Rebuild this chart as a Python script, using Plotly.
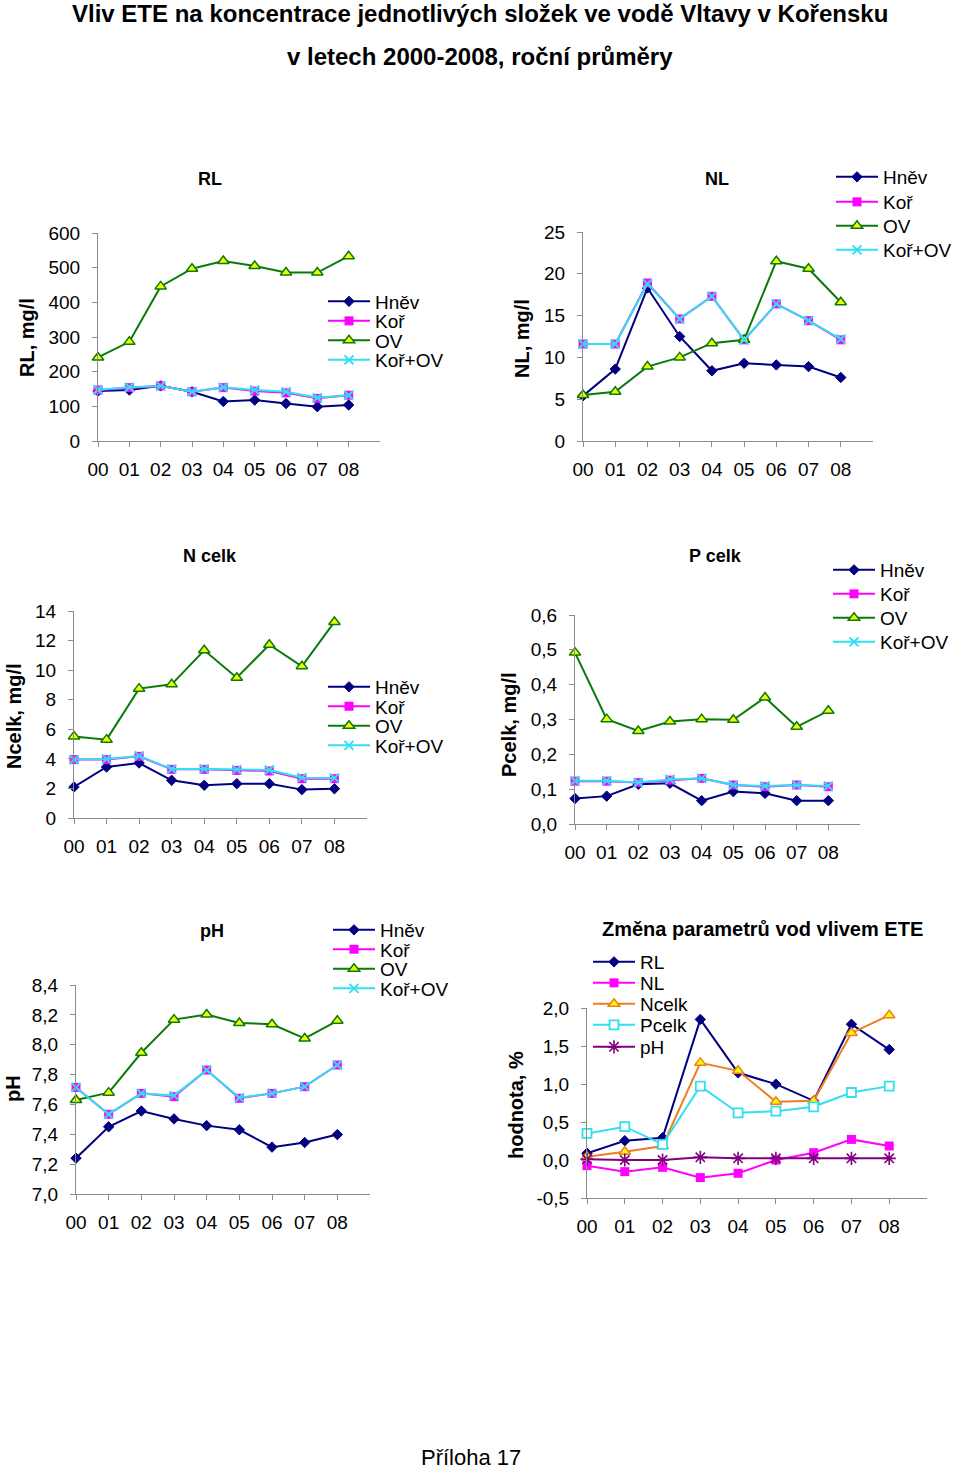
import plotly.graph_objects as go

W, H = 960, 1469

# ---------------- data ----------------
years = ["00", "01", "02", "03", "04", "05", "06", "07", "08"]

# RL, mg/l
rl_hnev = [144, 147, 159, 142, 114, 118, 108, 99, 104]
rl_kor = [147, 154, 159, 142, 154, 144, 139, 123, 132]
rl_ov = [241, 286, 446, 497, 519, 505, 486, 486, 533]
rl_korov = [148, 155, 159, 142, 155, 147, 142, 125, 132]

# NL, mg/l
nl_hnev = [5.4, 8.6, 18.3, 12.5, 8.4, 9.3, 9.1, 8.9, 7.6]
nl_kor = [11.6, 11.6, 18.9, 14.6, 17.3, 12.1, 16.4, 14.4, 12.1]
nl_ov = [5.5, 5.9, 8.9, 10.0, 11.7, 12.1, 21.5, 20.6, 16.6]
nl_korov = [11.6, 11.6, 18.8, 14.6, 17.3, 12.1, 16.4, 14.4, 12.2]

# N celk, mg/l
n_hnev = [2.10, 3.45, 3.72, 2.55, 2.21, 2.32, 2.32, 1.92, 1.98]
n_kor = [3.95, 3.95, 4.17, 3.29, 3.29, 3.22, 3.18, 2.66, 2.66]
n_ov = [5.52, 5.30, 8.75, 9.04, 11.34, 9.49, 11.72, 10.26, 13.26]
n_korov = [3.95, 3.99, 4.20, 3.31, 3.31, 3.27, 3.25, 2.73, 2.70]

# P celk, mg/l
p_hnev = [0.073, 0.080, 0.114, 0.117, 0.067, 0.093, 0.088, 0.067, 0.067]
p_kor = [0.123, 0.123, 0.119, 0.126, 0.131, 0.112, 0.107, 0.112, 0.107]
p_ov = [0.492, 0.301, 0.267, 0.294, 0.301, 0.299, 0.363, 0.279, 0.325]
p_korov = [0.124, 0.124, 0.119, 0.128, 0.131, 0.112, 0.109, 0.112, 0.109]

# pH
ph_hnev = [7.240, 7.450, 7.556, 7.503, 7.458, 7.430, 7.314, 7.345, 7.398]
ph_kor = [7.714, 7.534, 7.674, 7.652, 7.830, 7.641, 7.674, 7.719, 7.864]
ph_ov = [7.630, 7.679, 7.946, 8.168, 8.202, 8.146, 8.137, 8.042, 8.160]
ph_korov = [7.714, 7.534, 7.674, 7.659, 7.830, 7.645, 7.674, 7.719, 7.864]

# Změna parametrů, %
ch_rl = [0.088, 0.254, 0.293, 1.850, 1.147, 0.998, 0.779, 1.786, 1.453]
ch_nl = [-0.074, -0.153, -0.096, -0.232, -0.175, 0.000, 0.096, 0.271, 0.184]
ch_n = [0.044, 0.109, 0.184, 1.278, 1.173, 0.766, 0.779, 1.672, 1.904]
ch_p = [0.350, 0.438, 0.206, 0.972, 0.621, 0.643, 0.700, 0.888, 0.972]
ch_ph = [0.010, 0.000, 0.000, 0.035, 0.022, 0.022, 0.022, 0.022, 0.022]

# tick values / labels
rl_ticks = [0, 100, 200, 300, 400, 500, 600]
rl_ticktext = ["0", "100", "200", "300", "400", "500", "600"]
nl_ticks = [0, 5, 10, 15, 20, 25]
nl_ticktext = ["0", "5", "10", "15", "20", "25"]
n_ticks = [0, 2, 4, 6, 8, 10, 12, 14]
n_ticktext = ["0", "2", "4", "6", "8", "10", "12", "14"]
p_ticks = [0.0, 0.1, 0.2, 0.3, 0.4, 0.5, 0.6]
p_ticktext = ["0,0", "0,1", "0,2", "0,3", "0,4", "0,5", "0,6"]
ph_ticks = [7.0, 7.2, 7.4, 7.6, 7.8, 8.0, 8.2, 8.4]
ph_ticktext = ["7,0", "7,2", "7,4", "7,6", "7,8", "8,0", "8,2", "8,4"]
ch_ticks = [-0.5, 0.0, 0.5, 1.0, 1.5, 2.0]
ch_ticktext = ["-0,5", "0,0", "0,5", "1,0", "1,5", "2,0"]

# ---------------- styles ----------------
NAVY = "#000080"
MAGENTA = "#FF00FF"
GREEN = "#0A7A0A"
YELLOW = "#F2FF00"
CYAN = "#30E0F0"
ORANGE = "#F07D22"
PURPLE = "#800080"
AXIS = "#8C8C8C"
FONT = "Liberation Sans, Arial, sans-serif"

styles = {
    "hnev": dict(line=dict(color=NAVY, width=2),
                 marker=dict(symbol="diamond", size=8, color=NAVY, line=dict(color=NAVY, width=1))),
    "kor": dict(line=dict(color=MAGENTA, width=2),
                marker=dict(symbol="square", size=9, color=MAGENTA, line=dict(width=0))),
    "ov": dict(line=dict(color=GREEN, width=2),
               marker=dict(symbol="triangle-up", size=10, color=YELLOW, line=dict(color=GREEN, width=1.5))),
    "korov": dict(line=dict(color=CYAN, width=2),
                  marker=dict(symbol="x-thin", size=9, color=CYAN, line=dict(color=CYAN, width=2))),
    "ncelk": dict(line=dict(color=ORANGE, width=2),
                  marker=dict(symbol="triangle-up", size=10, color=YELLOW, line=dict(color=ORANGE, width=1.5))),
    "pcelk": dict(line=dict(color=CYAN, width=2),
                  marker=dict(symbol="square", size=9, color="white", line=dict(color=CYAN, width=1.8))),
    "ph": dict(line=dict(color=PURPLE, width=2),
               marker=dict(symbol="asterisk-open", size=11, color=PURPLE, line=dict(color=PURPLE, width=1.6))),
}

def fx(px):
    return px / W

def fy(py):
    return 1 - py / H

panels = [
    dict(title="RL", title_pos=(210, 179), ylabel="RL, mg/l", ylabel_pos=(27, 338),
         xdom=(98, 380), ydom=(233, 441), yrange=(0, 600), ticks=rl_ticks, ticktext=rl_ticktext,
         series=[("Hněv", rl_hnev, "hnev"), ("Koř", rl_kor, "kor"), ("OV", rl_ov, "ov"), ("Koř+OV", rl_korov, "korov")],
         leg_x=328, leg_y=[301.5, 321, 340.5, 360]),
    dict(title="NL", title_pos=(717, 179), ylabel="NL, mg/l", ylabel_pos=(522, 339),
         xdom=(583, 873), ydom=(232, 441), yrange=(0, 25), ticks=nl_ticks, ticktext=nl_ticktext,
         series=[("Hněv", nl_hnev, "hnev"), ("Koř", nl_kor, "kor"), ("OV", nl_ov, "ov"), ("Koř+OV", nl_korov, "korov")],
         leg_x=836, leg_y=[177, 202, 226, 250]),
    dict(title="N celk", title_pos=(210, 556), ylabel="Ncelk, mg/l", ylabel_pos=(14, 716),
         xdom=(74, 367), ydom=(611, 818), yrange=(0, 14), ticks=n_ticks, ticktext=n_ticktext,
         series=[("Hněv", n_hnev, "hnev"), ("Koř", n_kor, "kor"), ("OV", n_ov, "ov"), ("Koř+OV", n_korov, "korov")],
         leg_x=328, leg_y=[687, 706.5, 726, 745.5]),
    dict(title="P celk", title_pos=(715, 556), ylabel="Pcelk, mg/l", ylabel_pos=(509, 724),
         xdom=(575, 860), ydom=(615, 824), yrange=(0, 0.6), ticks=p_ticks, ticktext=p_ticktext,
         series=[("Hněv", p_hnev, "hnev"), ("Koř", p_kor, "kor"), ("OV", p_ov, "ov"), ("Koř+OV", p_korov, "korov")],
         leg_x=833, leg_y=[570, 594, 618, 642]),
    dict(title="pH", title_pos=(212, 931), ylabel="pH", ylabel_pos=(13, 1089),
         xdom=(76, 370), ydom=(985, 1194), yrange=(7.0, 8.4), ticks=ph_ticks, ticktext=ph_ticktext,
         series=[("Hněv", ph_hnev, "hnev"), ("Koř", ph_kor, "kor"), ("OV", ph_ov, "ov"), ("Koř+OV", ph_korov, "korov")],
         leg_x=333, leg_y=[930, 949.5, 969, 988.5]),
    dict(title="Změna parametrů vod vlivem ETE", title_pos=(762, 929), ylabel="hodnota, %", ylabel_pos=(516, 1105),
         xdom=(587, 927), ydom=(1008, 1198), yrange=(-0.5, 2.0), ticks=ch_ticks, ticktext=ch_ticktext,
         series=[("RL", ch_rl, "hnev"), ("NL", ch_nl, "kor"), ("Ncelk", ch_n, "ncelk"), ("Pcelk", ch_p, "pcelk"), ("pH", ch_ph, "ph")],
         leg_x=593, leg_y=[962, 983, 1004, 1025, 1047]),
]

fig = go.Figure()
layout = dict(
    width=W, height=H, autosize=False,
    margin=dict(l=0, r=0, t=0, b=0, pad=0, autoexpand=False),
    paper_bgcolor="white", plot_bgcolor="white",
    showlegend=True,
    font=dict(family=FONT, color="black", size=19),
)
annotations = []
legend_count = 0

ITEMW = 42
for i, p in enumerate(panels):
    n = "" if i == 0 else str(i + 1)
    xa, ya = "x" + n, "y" + n
    layout["xaxis" + n] = dict(
        domain=[fx(p["xdom"][0]), fx(p["xdom"][1])], anchor=ya, type="category",
        range=[0, 9], showline=True, linecolor=AXIS, linewidth=1, ticks="outside",
        ticklen=5, tickcolor=AXIS, showgrid=False, zeroline=False,
        tickfont=dict(size=19, family=FONT, color="black"), ticklabelstandoff=6,
    )
    layout["yaxis" + n] = dict(
        domain=[fy(p["ydom"][1]), fy(p["ydom"][0])], anchor=xa,
        range=list(p["yrange"]), tickvals=p["ticks"], ticktext=p["ticktext"],
        showline=True, linecolor=AXIS, linewidth=1, ticks="outside", ticklen=5,
        tickcolor=AXIS, showgrid=False, zeroline=False,
        tickfont=dict(size=19, family=FONT, color="black"), ticklabelstandoff=8,
    )
    for (name, vals, key), ly in zip(p["series"], p["leg_y"]):
        legend_count += 1
        lid = "legend" if legend_count == 1 else "legend%d" % legend_count
        st = styles[key]
        fig.add_trace(go.Scatter(
            x=years, y=vals, name=name, mode="lines+markers",
            line=st["line"], marker=st["marker"], xaxis=xa, yaxis=ya,
            cliponaxis=False, legend=lid, showlegend=True,
        ))
        layout[lid] = dict(
            x=fx(p["leg_x"] - 5), y=fy(ly), xanchor="left", yanchor="middle",
            bgcolor="rgba(0,0,0,0)", borderwidth=0, itemwidth=ITEMW,
            font=dict(size=19, family=FONT, color="black"),
            itemclick=False, itemdoubleclick=False,
        )
    annotations.append(dict(
        text="<b>%s</b>" % p["title"], x=fx(p["title_pos"][0]), y=fy(p["title_pos"][1]),
        xref="paper", yref="paper", xanchor="center", yanchor="middle", showarrow=False,
        font=dict(size=20 if i == 5 else 18, family=FONT, color="black"),
    ))
    annotations.append(dict(
        text="<b>%s</b>" % p["ylabel"], x=fx(p["ylabel_pos"][0]), y=fy(p["ylabel_pos"][1]),
        xref="paper", yref="paper", xanchor="center", yanchor="middle", showarrow=False,
        textangle=-90, font=dict(size=20, family=FONT, color="black"),
    ))

TITLE_FONT = "Liberation Sans Narrow, Arial Narrow, Liberation Sans, Arial, sans-serif"
annotations.append(dict(
    text="<b>Vliv ETE na koncentrace jednotlivých složek ve vodě Vltavy v Kořensku</b>",
    x=fx(480), y=fy(13), xref="paper", yref="paper", xanchor="center", yanchor="middle",
    showarrow=False, font=dict(size=24, family=TITLE_FONT, color="black"),
))
annotations.append(dict(
    text="<b>v letech 2000-2008, roční průměry</b>",
    x=fx(480), y=fy(56), xref="paper", yref="paper", xanchor="center", yanchor="middle",
    showarrow=False, font=dict(size=24, family=TITLE_FONT, color="black"),
))
annotations.append(dict(
    text="Příloha 17", x=fx(471), y=fy(1457), xref="paper", yref="paper",
    xanchor="center", yanchor="middle", showarrow=False,
    font=dict(size=22, family=FONT, color="black"),
))
layout["annotations"] = annotations
fig.update_layout(**layout)
fig.write_html(
    "out.html",
    config={"displayModeBar": False},
    post_script="document.body.style.margin='0';document.body.style.overflow='hidden';",
)
